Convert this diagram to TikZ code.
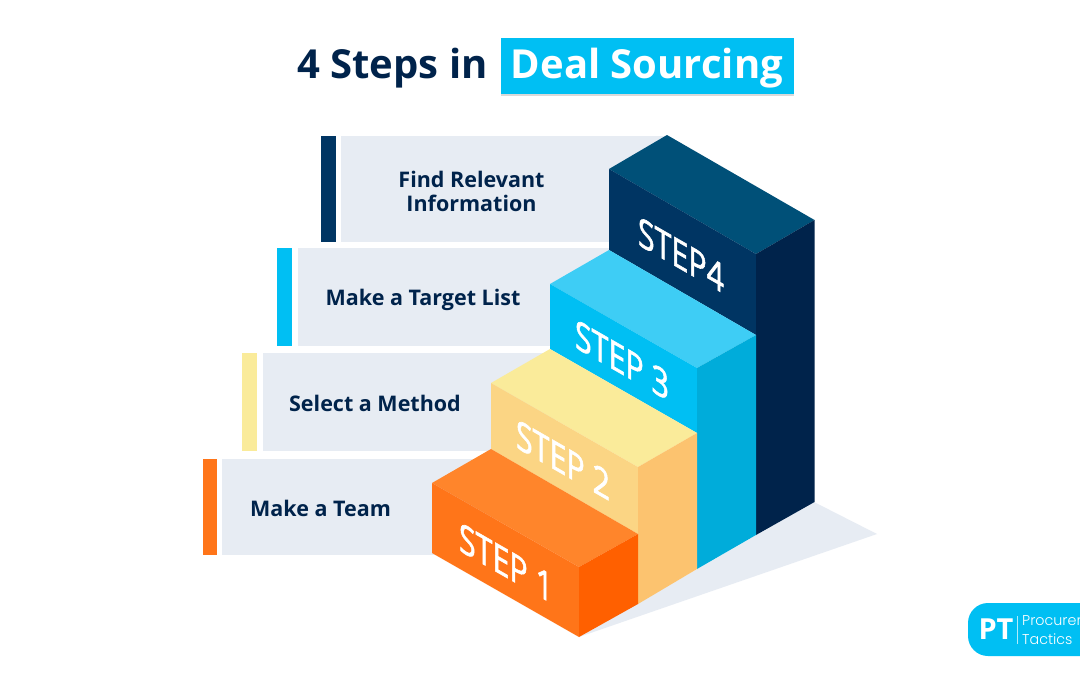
\documentclass[tikz,border=0pt]{standalone}
\usepackage{fontspec}
\setmainfont{Open Sans}
\newfontfamily\logofont[UprightFont={* Light}]{Poppins}
\newfontfamily\stepfont[FakeBold=1.6]{Open Sans}
\usetikzlibrary{positioning}
\definecolor{navy}{HTML}{00234B}
\definecolor{panelgrey}{HTML}{E7ECF3}
\definecolor{skyblue}{HTML}{00BFF3}
\definecolor{skyside}{HTML}{00ACDA}
\definecolor{skytop}{HTML}{3ECDF5}
\definecolor{deeptop}{HTML}{005078}
\definecolor{deepfront}{HTML}{003563}
\definecolor{sandtop}{HTML}{FAEB9A}
\definecolor{sandfront}{HTML}{FBD584}
\definecolor{sandside}{HTML}{FCC36F}
\definecolor{orangetop}{HTML}{FF852B}
\definecolor{orangefront}{HTML}{FF7519}
\definecolor{orangeside}{HTML}{FF6000}
\tikzset{
  paneltext/.style={text=navy,font=\bfseries\fontsize{21.5}{24}\selectfont,align=center,inner sep=0pt},
  titletext/.style={font=\bfseries\fontsize{40}{40}\selectfont,inner sep=0pt},
  steplabel/.style={text=white,font=\stepfont\fontsize{40}{40}\selectfont,inner sep=0pt,yslant=-0.574,xscale=0.76},
  logotext/.style={font=\logofont\fontsize{14.3}{19}\selectfont,text=white,inner sep=0pt,anchor=west,align=left},
}

\begin{document}
\begin{tikzpicture}[x=1pt,y=-1pt]
\clip (0,0) rectangle (1080,675);
\fill[white] (0,0) rectangle (1080,675);

% title
\node[titletext,text=navy] (title) at (392.5,68) {4 Steps in};
\fill[black!15] (501,39) rectangle (794,95.5);
\fill[skyblue] (501,38) rectangle (794,94);
\node[titletext,text=white] (deal) at (647,68) {Deal Sourcing};

% panels
\fill[panelgrey] (341,136) rectangle (667,242);
\fill[deepfront] (321,136) rectangle (336,242);
\fill[panelgrey] (298,248) rectangle (615,346);
\fill[skyblue] (277,248) rectangle (292,346);
\fill[panelgrey] (262.5,353) rectangle (555,451);
\fill[sandtop] (242,353) rectangle (257,451);
\fill[panelgrey] (222,459) rectangle (495,555);
\fill[orangefront] (202.5,459) rectangle (217,555);

\node[paneltext] (find) at (471.5,191.5) {Find Relevant\\Information};
\node[paneltext] (target) at (423,300) {Make a Target List};
\node[paneltext] (method) at (375,403.5) {Select a Method};
\node[paneltext] (team) at (320.5,508.5) {Make a Team};

% shadow
\fill[panelgrey] (579,637) -- (814,502) -- (877,534) -- cycle;

% step 4
\fill[deeptop] (609,169) -- (667,135) -- (814.5,220) -- (756,254) -- cycle;
\fill[deepfront] (609,169) -- (756,254) -- (756,335) -- (609,250) -- cycle;
\fill[navy] (756,254) -- (814.5,220) -- (814.5,502) -- (756,535) -- cycle;
% step 3
\fill[skytop] (550,284) -- (609,250) -- (756,335) -- (697,368) -- cycle;
\fill[skyblue] (550,284) -- (697,368) -- (697,433) -- (550,349) -- cycle;
\fill[skyside] (697,368) -- (756,335) -- (756,535) -- (697,569) -- cycle;
% step 2
\fill[sandtop] (491,383) -- (550,349) -- (697,433) -- (638,467) -- cycle;
\fill[sandfront] (491,383) -- (638,467) -- (638,534) -- (491,449) -- cycle;
\fill[sandside] (638,467) -- (697,433) -- (697,569) -- (638,604) -- cycle;
% step 1
\fill[orangetop] (432,483) -- (491,449) -- (638,534) -- (579,567) -- cycle;
\fill[orangefront] (432,483) -- (579,567) -- (579,637) -- (432,553) -- cycle;
\fill[orangeside] (579,567) -- (638,534) -- (638,604) -- (579,637) -- cycle;

\node[steplabel] (stepfour) at (681,255) {STEP4};
\node[steplabel] (stepthree) at (622,360) {STEP 3};
\node[steplabel] (steptwo) at (563,460) {STEP 2};
\node[steplabel] (stepone) at (506,563) {STEP 1};

% logo
\fill[skyblue,rounded corners=20] (968,603) rectangle (1120,656);
\node[font=\bfseries\fontsize{29}{29}\selectfont,text=white,inner sep=0pt] (logopt) at (996,629.5) {PT};
\draw[white!70!skyblue,thin] (1017,616) -- (1017,644);
\node[logotext] (logoname) at (1022,630.5) {Procurement\\Tactics};
\end{tikzpicture}
\end{document}
